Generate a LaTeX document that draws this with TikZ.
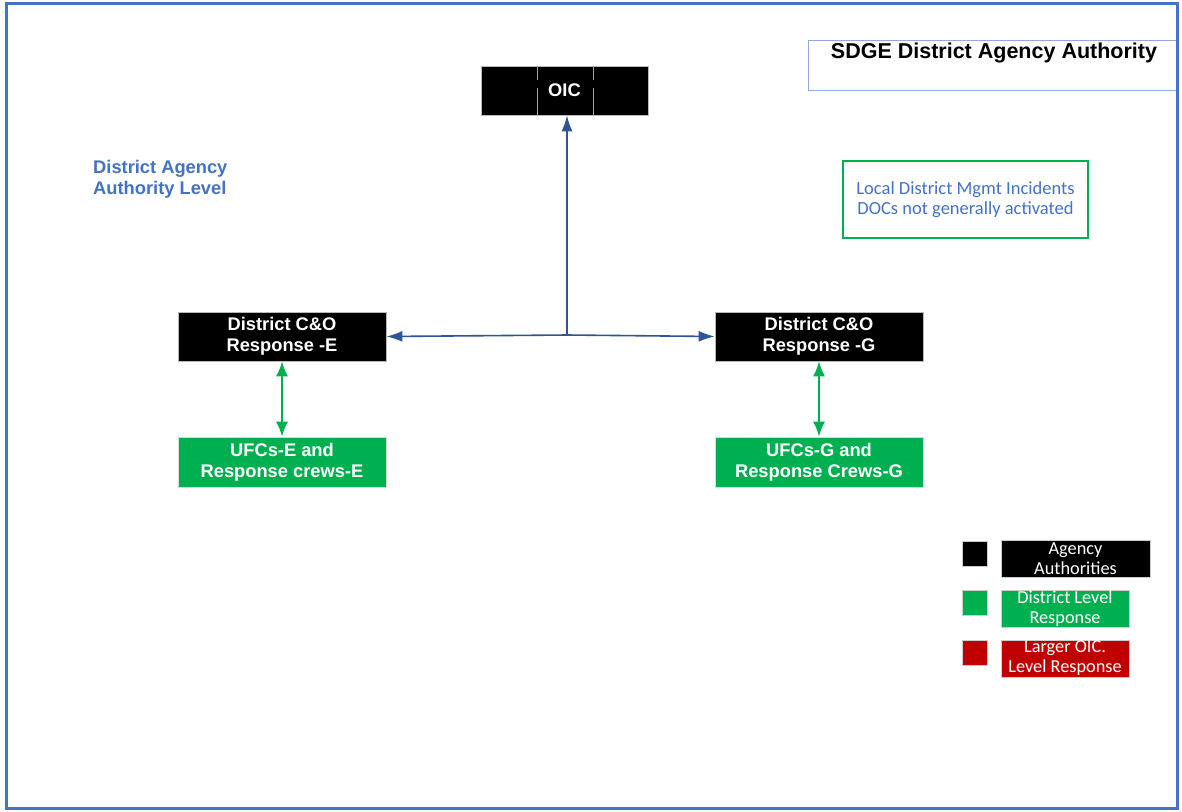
\documentclass[tikz,border=0pt]{standalone}
\usepackage{fontspec}
\setmainfont{Liberation Sans}
\newfontfamily\calibfont{Carlito}
\usetikzlibrary{arrows.meta}
\definecolor{frameblue}{HTML}{4472C4}
\definecolor{arrblue}{HTML}{2F5597}
\definecolor{sgreen}{HTML}{00B050}
\definecolor{sred}{HTML}{C00000}
\definecolor{lblue}{HTML}{8FAADC}
\tikzset{
  blackbox/.style={rectangle, fill=black, draw=gray!55, line width=0.8pt, text=white, align=center, inner sep=0pt,
    font=\fontsize{18.3}{21}\selectfont\bfseries},
  greenbox/.style={rectangle, fill=sgreen, draw=gray!30, line width=0.8pt, text=white, align=center, inner sep=0pt,
    font=\fontsize{18.3}{21}\selectfont\bfseries},
  legsq/.style={rectangle, draw=gray!40, line width=0.6pt, minimum width=25pt, minimum height=25pt, inner sep=0pt},
  legbox/.style={rectangle, draw=gray!40, line width=0.6pt, text=white, align=center, inner sep=0pt,
    minimum height=37pt, font=\calibfont\fontsize{18.3}{20}\selectfont},
  bluearrow/.style={draw=arrblue, line width=1.6pt, -{Latex[length=16pt,width=11pt]}},
  greenarrow/.style={draw=sgreen, line width=1.6pt, {Latex[length=15pt,width=12pt]}-{Latex[length=15pt,width=12pt]}},
}
\begin{document}
\begin{tikzpicture}[x=1pt,y=-1pt]
\useasboundingbox (0,0) rectangle (1182,811);
\fill[white] (0,0) rectangle (1182,811);
% title box
\node[rectangle, draw=lblue, line width=0.8pt, minimum width=369pt, minimum height=50pt, inner sep=0pt] (titlebox) at (992.5,65) {};
\node[font=\fontsize{21.5}{24}\selectfont\bfseries, inner sep=0pt] (title) at (994,53) {SDGE District Agency Authority};
% outer frame
\draw[frameblue, line width=3pt] (6,3) rectangle (1177,808);
% OIC
\node[blackbox, minimum width=167pt, minimum height=49pt] (oic) at (564.5,90.5) {OIC};
\draw[gray!70, line width=1pt] (537,66) -- (537,80) (537,88) -- (537,115);
\draw[gray!70, line width=1pt] (593,66) -- (593,80) (593,88) -- (593,115);
% level label
\node[anchor=north west, align=left, text=frameblue, inner sep=0pt, font=\fontsize{18.3}{21}\selectfont\bfseries] (level) at (93,160) {District Agency\\Authority Level};
% note
\node[rectangle, draw=sgreen, line width=2pt, minimum width=245pt, minimum height=77pt, align=center, text=frameblue, inner sep=0pt,
  font=\calibfont\fontsize{18.5}{20.5}\selectfont] (note) at (965.5,199.5) {Local District Mgmt Incidents\\DOCs not generally activated};
% district boxes
\node[blackbox, minimum width=208pt, minimum height=49pt] (dE) at (282,336.5) {District C\&O\\Response -E};
\node[blackbox, minimum width=208pt, minimum height=49pt] (dG) at (819,336.5) {District C\&O\\Response -G};
\node[greenbox, minimum width=208pt, minimum height=50pt] (uE) at (282,462) {UFCs-E and\\Response crews-E};
\node[greenbox, minimum width=208pt, minimum height=50pt] (uG) at (819,462) {UFCs-G and\\Response Crews-G};
% connectors
\coordinate (j) at (567,335);
\draw[bluearrow] (j) -- (oic.south -| j);
\draw[bluearrow] (j) -- (dE.east);
\draw[bluearrow] (j) -- (dG.west);
\draw[greenarrow] (dE.south) -- (uE.north);
\draw[greenarrow] (dG.south) -- (uG.north);
% legend
\node[legsq, fill=black] (sq1) at (974.5,553.5) {};
\node[legbox, fill=black, minimum width=149pt] (lg1) at (1075.5,558.5) {Agency\\Authorities};
\node[legsq, fill=sgreen] (sq2) at (974.5,602.5) {};
\node[legbox, fill=sgreen, minimum width=128pt] (lg2) at (1065,608.5) {District Level\\Response};
\node[legsq, fill=sred] (sq3) at (974.5,652.5) {};
\node[legbox, fill=sred, minimum width=128pt] (lg3) at (1065,658.5) {Larger OIC.\\Level Response};
\end{tikzpicture}
\end{document}
